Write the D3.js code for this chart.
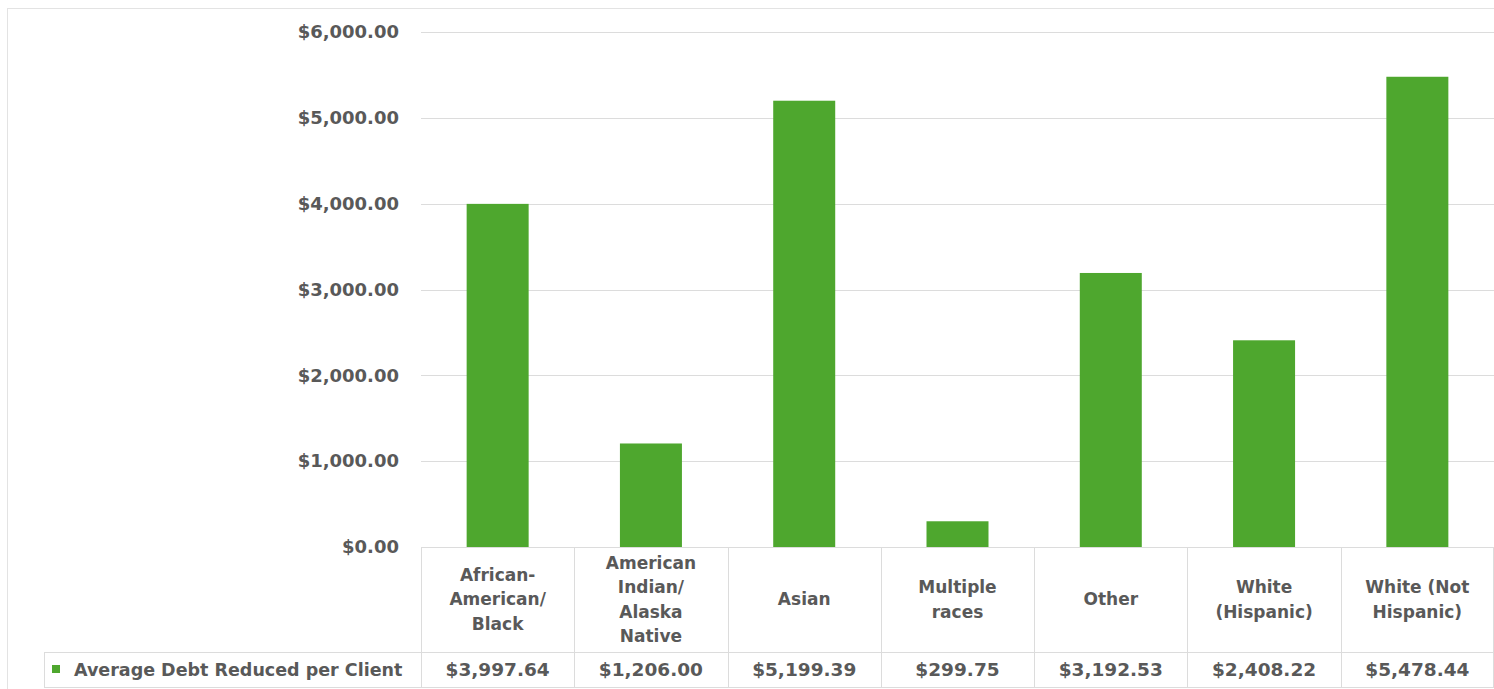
<!DOCTYPE html>
<html><head><meta charset="utf-8">
<script src="https://cdn.jsdelivr.net/npm/d3@7"></script>
<style>
body{margin:0;background:#fff;}
text{font-family:"DejaVu Sans",sans-serif;font-weight:700;fill:#595959;}
</style></head>
<body><svg id="c" width="1494" height="689"></svg>
<script>
const categories = [["African-","American/","Black"],["American","Indian/","Alaska","Native"],["Asian"],["Multiple","races"],["Other"],["White","(Hispanic)"],["White (Not","Hispanic)"]];
const values = [3997.64,1206.00,5199.39,299.75,3192.53,2408.22,5478.44];
const valueLabels = ["$3,997.64","$1,206.00","$5,199.39","$299.75","$3,192.53","$2,408.22","$5,478.44"];
const yTicks = [0,1000,2000,3000,4000,5000,6000];
const seriesName = "Average Debt Reduced per Client";

(function(){
const svg = d3.select("#c");
const pLeft=421, pRight=1494, pTop=32, zero=547, rowTop=652, pBottom=687, legendLeft=44;
const grid="#dcdcdc";
const green="#4ea72e";
const x = d3.scaleBand().domain(d3.range(values.length)).range([pLeft,pRight]).paddingInner(0).paddingOuter(0);
const y = d3.scaleLinear().domain([0,6000]).range([zero,pTop]);

svg.append("rect").attr("x",7.5).attr("y",8.5).attr("width",1500).attr("height",700).attr("fill","none").attr("stroke","#e3e3e3");

svg.append("g").selectAll("line").data(yTicks).join("line")
  .attr("x1",pLeft).attr("x2",pRight).attr("y1",d=>Math.round(y(d))+0.5).attr("y2",d=>Math.round(y(d))+0.5)
  .attr("stroke",grid);

svg.append("g").selectAll("text").data(yTicks).join("text")
  .attr("x",399).attr("y",d=>y(d)).attr("dy","0.35em").attr("text-anchor","end")
  .attr("font-size",18).text(d=>"$"+d3.format(",.2f")(d));

const bw = 62;
svg.append("g").selectAll("rect").data(values).join("rect")
  .attr("x",(d,i)=>x(i)+x.bandwidth()/2-bw/2).attr("width",bw)
  .attr("y",d=>y(d)).attr("height",d=>zero-y(d)).attr("fill",green);

const tl = svg.append("g").attr("stroke",grid);
d3.range(values.length+1).forEach(i=>{
  const xx = i<values.length ? x(i) : pRight-1;
  tl.append("line").attr("x1",Math.round(xx)+0.5).attr("x2",Math.round(xx)+0.5).attr("y1",zero).attr("y2",pBottom);
});
tl.append("line").attr("x1",legendLeft).attr("x2",pRight).attr("y1",rowTop+0.5).attr("y2",rowTop+0.5);
tl.append("line").attr("x1",legendLeft).attr("x2",pRight).attr("y1",pBottom+0.5).attr("y2",pBottom+0.5);
tl.append("line").attr("x1",legendLeft+0.5).attr("x2",legendLeft+0.5).attr("y1",rowTop).attr("y2",pBottom);

const lh=24.5;
categories.forEach((lines,i)=>{
  const cx = x(i)+x.bandwidth()/2;
  const cy = (zero+rowTop)/2;
  const t = svg.append("text").attr("text-anchor","middle").attr("font-size",17);
  lines.forEach((l,j)=>{
    t.append("tspan").attr("x",cx).attr("y",cy+(j-(lines.length-1)/2)*lh).attr("dy","0.35em").text(l);
  });
});

svg.append("g").selectAll("text").data(valueLabels).join("text")
  .attr("x",(d,i)=>x(i)+x.bandwidth()/2).attr("y",(rowTop+pBottom)/2).attr("dy","0.35em")
  .attr("text-anchor","middle").attr("font-size",18.5).text(d=>d);

svg.append("rect").attr("x",52).attr("y",665).attr("width",8).attr("height",8).attr("fill",green);
svg.append("text").attr("x",74).attr("y",(rowTop+pBottom)/2).attr("dy","0.35em").attr("font-size",17.5).text(seriesName);
})();
</script></body></html>
